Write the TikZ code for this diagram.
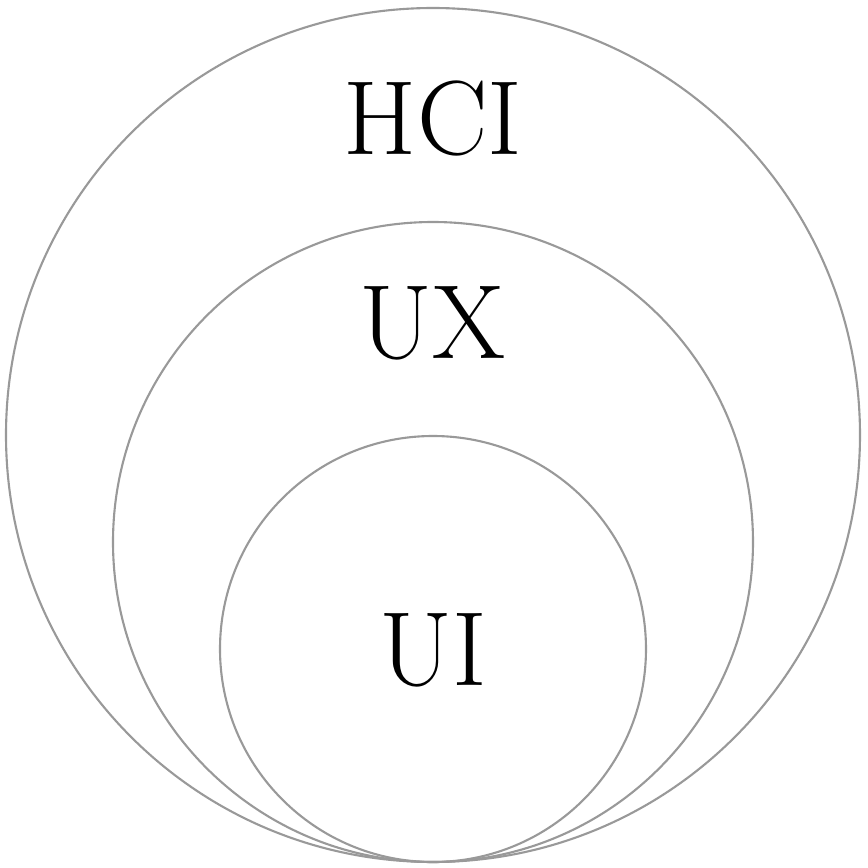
\documentclass[tikz,border=0pt]{standalone}
\usepackage{amsmath, amssymb}
\usepackage{tikz}
\usetikzlibrary{positioning}

\begin{document}
\begin{tikzpicture}[ringnode/.style={circle,draw=black!40,line width=0.6pt,inner sep=0pt},labelnode/.style={rectangle,inner sep=2pt,font=\fontsize{30}{36}\selectfont}, scale=1]
		\useasboundingbox (0,0) rectangle (8.68,8.68);
		\node [ringnode, minimum size=8.54cm] (hci) at (4.33, 4.33) {};
		\node [ringnode, minimum size=6.40cm] (ux) at (4.33, 3.26) {};
		\node [ringnode, minimum size=4.26cm] (ui) at (4.33, 2.19) {};
		\node [labelnode] (hcitext) at (4.33, 7.50) {HCI};
		\node [labelnode] (uxtext) at (4.33, 5.45) {UX};
		\node [labelnode] (uitext) at (4.33, 2.18) {UI};
	\end{tikzpicture}
\end{document}
